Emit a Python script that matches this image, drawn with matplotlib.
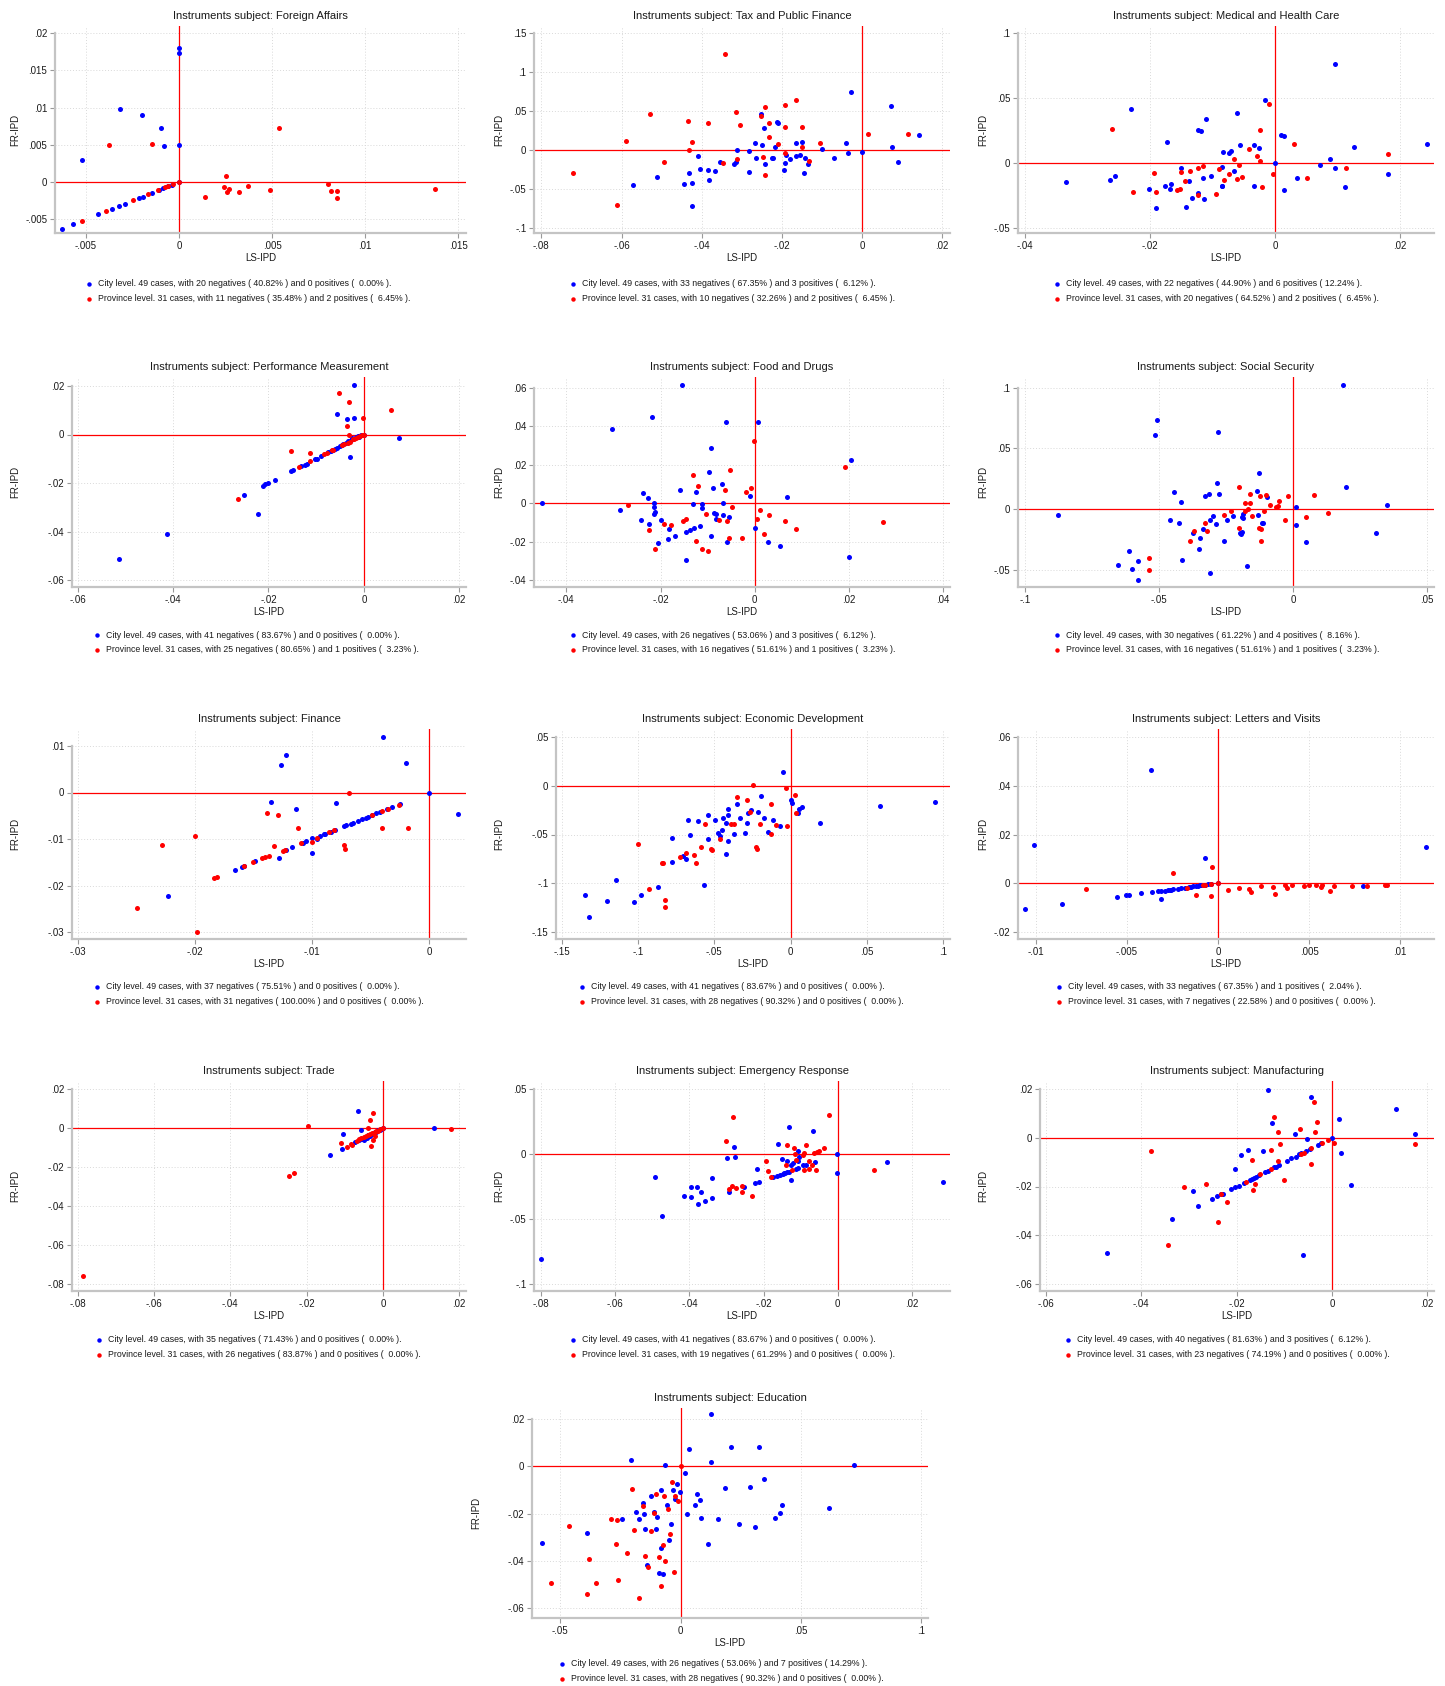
import matplotlib.pyplot as plt
from matplotlib.lines import Line2D
from matplotlib.ticker import FuncFormatter

plt.rcParams['font.family'] = ['Liberation Sans', 'DejaVu Sans']

W, H = 1445, 1686
BLUE = '#0000ff'
RED = '#ff0000'
N_CITY, N_PROV = 49, 31

# ---- data: (LS-IPD, FR-IPD) pairs ----
fa_city = [(0, 0.0180), (0, 0.0174), (-0.0032, 0.0098), (-0.0020, 0.0090), (-0.00097, 0.0073),
           (-0.00079, 0.00486), (0, 0.0050), (-0.0052, 0.0030), (-0.00628, -0.0063), (-0.00571, -0.00572),
           (-0.00436, -0.00437), (-0.00358, -0.0036), (-0.00322, -0.00324), (-0.00293, -0.00293),
           (-0.00215, -0.0022), (-0.00195, -0.0020), (-0.00147, -0.00149), (-0.00084, -0.00086),
           (-0.00057, -0.00059), (-0.0011, -0.0011), (-0.0004, -0.0004), (0, 0)]
fa_prov = [(-0.0052, -0.00523), (-0.00392, -0.00392), (-0.00245, -0.00243), (-0.00165, -0.00167),
           (-0.00114, -0.00108), (-0.00075, -0.00072), (-0.00057, -0.00059), (-0.00034, -0.00032), (0, 0),
           (-0.00374, 0.0050), (-0.00147, 0.00509), (0.00535, 0.00725), (0.00138, -0.00198), (0.0024, -0.00063),
           (0.00254, 0.00077), (0.00259, -0.0014), (0.00268, -0.00095), (0.00322, -0.00131), (0.00369, -0.00054),
           (0.00488, -0.00108), (0.00801, -0.00023), (0.00816, -0.00122), (0.00846, -0.00117),
           (0.0085, -0.00216), (0.01374, -0.00099)]

tax_city = [(-0.0571, -0.0451), (-0.0511, -0.0345), (-0.0443, -0.0438), (-0.0431, -0.0294), (-0.0423, -0.0417),
            (-0.0424, -0.0711), (-0.0410, -0.0077), (-0.0404, -0.0247), (-0.0384, -0.0260), (-0.0381, -0.0379),
            (-0.0367, -0.0268), (-0.0354, -0.0153), (-0.0320, -0.0179), (-0.0315, -0.0149), (-0.0311, -0.0004),
            (-0.0283, -0.0013), (-0.0283, -0.0281), (-0.0266, 0.0085), (-0.0265, -0.0102), (-0.0252, 0.0460),
            (-0.0249, 0.0068), (-0.0244, 0.0281), (-0.0243, -0.0179), (-0.0224, -0.0098), (-0.0221, -0.0102),
            (-0.0217, 0.0038), (-0.0213, 0.0353), (-0.0209, 0.0349), (-0.0195, -0.0255), (-0.0192, -0.0170),
            (-0.0190, -0.0060), (-0.0180, -0.0115), (-0.0165, 0.0094), (-0.0165, -0.0072), (-0.0155, -0.0060),
            (-0.0151, 0.0106), (-0.0146, -0.0289), (-0.0143, -0.0102), (-0.0135, -0.0179), (-0.0099, 0.0013),
            (-0.0071, -0.0106), (-0.0039, 0.0085), (-0.0036, -0.0034), (-0.0027, 0.0745), (-0.0001, -0.0026),
            (0.0073, 0.0562), (0.0075, 0.0043), (0.0089, -0.0157), (0.0142, 0.0187)]
tax_prov = [(-0.0721, -0.0289), (-0.0610, -0.0698), (-0.0588, 0.0115), (-0.0528, 0.0455), (-0.0493, -0.0157),
            (-0.0435, 0.0366), (-0.0431, 0.0), (-0.0425, 0.0098), (-0.0384, 0.0349), (-0.0348, -0.0170),
            (-0.0342, 0.1230), (-0.0314, 0.0485), (-0.0313, -0.0111), (-0.0304, 0.0319), (-0.0253, 0.0430),
            (-0.0248, -0.0094), (-0.0242, 0.0545), (-0.0242, -0.0319), (-0.0233, 0.0340), (-0.0233, 0.0162),
            (-0.0210, 0.0072), (-0.0192, 0.0570), (-0.0192, 0.0298), (-0.0192, -0.0034), (-0.0164, 0.0638),
            (-0.0151, 0.0294), (-0.0150, 0.0043), (-0.0132, -0.0140), (-0.0105, 0.0094), (0.0014, 0.0204),
            (0.0115, 0.0204)]

med_city = [(-0.0335, -0.0148), (-0.0264, -0.0133), (-0.0256, -0.0097), (-0.0231, 0.0414), (-0.0201, -0.0199),
            (-0.0191, -0.0343), (-0.0176, -0.0176), (-0.0173, 0.0159), (-0.0168, -0.0199), (-0.0166, -0.0164),
            (-0.0151, -0.0041), (-0.0143, -0.0335), (-0.0138, -0.0136), (-0.0133, -0.0269), (-0.0123, 0.0256),
            (-0.0123, -0.0233), (-0.0119, 0.0248), (-0.0116, -0.0115), (-0.0114, -0.0274), (-0.0110, 0.0338),
            (-0.0103, -0.0102), (-0.0085, -0.0174), (-0.0084, -0.0033), (-0.0083, 0.0084), (-0.0074, 0.0077),
            (-0.0071, 0.0095), (-0.0066, -0.0064), (-0.0061, 0.0381), (-0.0056, 0.0138), (-0.0034, 0.0141),
            (-0.0034, -0.0176), (-0.0025, 0.0113), (-0.0016, 0.0483), (0, 0), (0.0010, 0.0215), (0.0015, 0.0207),
            (0.0015, -0.0207), (0.0036, -0.0115), (0.0072, -0.0015), (0.0088, 0.0031), (0.0096, 0.0762),
            (0.0096, -0.0041), (0.0113, -0.0184), (0.0126, 0.0120), (0.0181, -0.0084), (0.0244, 0.0148),
            (-0.0084, -0.0172)]
med_prov = [(-0.0261, 0.0258), (-0.0227, -0.0225), (-0.0194, -0.0077), (-0.0190, -0.0223), (-0.0157, -0.0207),
            (-0.0152, -0.0199), (-0.0151, -0.0069), (-0.0144, -0.0141), (-0.0136, -0.0059), (-0.0124, -0.0041),
            (-0.0124, -0.0248), (-0.0115, -0.0020), (-0.0095, -0.0238), (-0.0090, -0.0046), (-0.0082, -0.0133),
            (-0.0073, -0.0084), (-0.0066, 0.0033), (-0.0060, -0.0120), (-0.0057, -0.0018), (-0.0052, -0.0105),
            (-0.0042, 0.0107), (-0.0028, 0.0054), (-0.0024, 0.0253), (-0.0024, 0.0015), (-0.0020, -0.0187),
            (-0.0010, 0.0453), (-0.0003, -0.0087), (0.0031, 0.0148), (0.0052, -0.0113), (0.0114, -0.0041),
            (0.0181, 0.0066)]

perf_city = [(-0.0513, -0.0513), (-0.0412, -0.0412), (-0.0252, -0.0250), (-0.0221, -0.0326), (-0.0212, -0.0212),
             (-0.0207, -0.0205), (-0.0201, -0.0199), (-0.0186, -0.0186), (-0.0152, -0.0151), (-0.0148, -0.0147),
             (-0.0131, -0.0131), (-0.0124, -0.0124), (-0.0119, -0.0120), (-0.0102, -0.0102), (-0.0099, -0.0099),
             (-0.0090, -0.0089), (-0.0075, -0.0074), (-0.0070, -0.0069), (-0.0064, -0.0065), (-0.0060, -0.0060),
             (-0.0057, -0.0056), (-0.0056, 0.0084), (-0.0050, -0.0048), (-0.0046, -0.0045), (-0.0043, -0.0041),
             (-0.0038, -0.0034), (-0.0036, 0.0065), (-0.0033, -0.0027), (-0.0029, -0.0093), (-0.0028, -0.0021),
             (-0.0024, -0.0016), (-0.0021, 0.0206), (-0.0021, 0.0070), (-0.0017, -0.0012), (-0.0012, -0.0008),
             (-0.0010, -0.0010), (-0.0007, -0.0004), (0, 0), (0.0073, -0.0016)]
perf_prov = [(-0.0264, -0.0264), (-0.0153, -0.0070), (-0.0137, -0.0136), (-0.0112, -0.0076), (-0.0112, -0.0111),
             (-0.0084, -0.0082), (-0.0078, -0.0078), (-0.0066, -0.0065), (-0.0064, -0.0062), (-0.0052, 0.0172),
             (-0.0045, -0.0044), (-0.0041, -0.0040), (-0.0036, 0.0036), (-0.0034, -0.0034), (-0.0032, 0.0135),
             (-0.0031, 0.0), (-0.0029, -0.0030), (-0.0023, -0.0020), (-0.0021, -0.0018), (-0.0017, -0.0014),
             (-0.0013, -0.0011), (-0.0008, -0.0008), (-0.0004, -0.0004), (-0.0001, 0.0069), (0, 0),
             (0.0056, 0.0103)]

food_city = [(-0.0451, 0.0), (-0.0304, 0.0385), (-0.0286, -0.0038), (-0.0241, -0.0087), (-0.0237, 0.0050),
             (-0.0226, 0.0028), (-0.0224, -0.0109), (-0.0219, 0.0447), (-0.0214, -0.0021), (-0.0214, 0.0003),
             (-0.0214, -0.0055), (-0.0211, -0.0047), (-0.0206, -0.0208), (-0.0200, -0.0090), (-0.0185, -0.0185),
             (-0.0182, -0.0135), (-0.0169, -0.0170), (-0.0158, 0.0066), (-0.0155, 0.0615), (-0.0146, -0.0149),
             (-0.0146, -0.0298), (-0.0138, -0.0139), (-0.0131, -0.0003), (-0.0129, -0.0128), (-0.0124, 0.0059),
             (-0.0117, -0.0118), (-0.0113, -0.0003), (-0.0113, -0.0024), (-0.0097, 0.0161), (-0.0094, -0.0172),
             (-0.0092, 0.0286), (-0.0088, 0.0078), (-0.0086, -0.0054), (-0.0083, -0.0059), (-0.0082, -0.0085),
             (-0.0069, 0.0097), (-0.0068, 0.0003), (-0.0068, -0.0061), (-0.0062, 0.0421), (-0.0058, -0.0201),
             (-0.0054, -0.0073), (-0.0011, 0.0036), (0.0001, -0.0128), (0.0006, 0.0421), (0.0028, -0.0201),
             (0.0054, -0.0225), (0.0069, 0.0033), (0.0199, -0.0279), (0.0205, 0.0224)]
food_prov = [(-0.0270, -0.0010), (-0.0224, -0.0140), (-0.0212, -0.0237), (-0.0192, -0.0109), (-0.0177, -0.0116),
             (-0.0152, -0.0092), (-0.0146, -0.0083), (-0.0132, 0.0146), (-0.0125, -0.0199), (-0.0121, 0.0088),
             (-0.0111, -0.0239), (-0.0104, -0.0055), (-0.0100, -0.0248), (-0.0076, -0.0087), (-0.0064, 0.0069),
             (-0.0059, -0.0095), (-0.0054, -0.0180), (-0.0053, 0.0172), (-0.0048, -0.0019), (-0.0027, -0.0180),
             (-0.0018, 0.0059), (-0.0009, 0.0078), (-0.0002, 0.0324), (0.0004, -0.0081), (0.0011, -0.0038),
             (0.0020, -0.0163), (0.0030, -0.0061), (0.0065, -0.0094), (0.0087, -0.0137), (0.0192, 0.0189),
             (0.0271, -0.0097)]

soc_city = [(-0.0879, -0.0047), (-0.0653, -0.0458), (-0.0612, -0.0342), (-0.0602, -0.0490), (-0.0581, -0.0427),
            (-0.0581, -0.0584), (-0.0517, 0.0614), (-0.0510, 0.0737), (-0.0460, -0.0085), (-0.0447, 0.0145),
            (-0.0425, -0.0112), (-0.0419, 0.0063), (-0.0415, -0.0416), (-0.0376, -0.0192), (-0.0352, -0.0329),
            (-0.0348, -0.0233), (-0.0338, -0.0162), (-0.0330, 0.0112), (-0.0315, 0.0126), (-0.0310, -0.0085),
            (-0.0310, -0.0521), (-0.0299, -0.0052), (-0.0289, -0.0118), (-0.0284, 0.0214), (-0.0280, 0.0638),
            (-0.0276, 0.0126), (-0.0257, -0.0260), (-0.0249, -0.0088), (-0.0224, -0.0058), (-0.0199, -0.0197),
            (-0.0192, -0.0189), (-0.0189, -0.0041), (-0.0188, -0.0074), (-0.0173, -0.0471), (-0.0137, 0.0153),
            (-0.0133, -0.0049), (-0.0128, 0.0299), (-0.0118, -0.0115), (-0.0113, -0.0115), (-0.0097, 0.0104),
            (0.0009, 0.0022), (0.0010, -0.0126), (0.0047, -0.0268), (0.0187, 0.1025), (0.0195, 0.0181),
            (0.0310, -0.0195), (0.0350, 0.0036), (-0.0195, -0.0200), (-0.0190, -0.0060)]
soc_prov = [(-0.0540, -0.0400), (-0.0537, -0.0496), (-0.0386, -0.0258), (-0.0371, -0.0178), (-0.0330, -0.0110),
            (-0.0322, -0.0178), (-0.0259, -0.0049), (-0.0233, -0.0011), (-0.0201, 0.0186), (-0.0201, -0.0151),
            (-0.0182, 0.0055), (-0.0180, -0.0014), (-0.0169, 0.0003), (-0.0163, 0.0123), (-0.0163, 0.0055),
            (-0.0155, -0.0058), (-0.0128, -0.0153), (-0.0123, 0.0112), (-0.0121, -0.0162), (-0.0121, -0.0263),
            (-0.0111, -0.0014), (-0.0101, 0.0118), (-0.0088, 0.0038), (-0.0065, 0.0016), (-0.0058, 0.0027),
            (-0.0052, 0.0071), (-0.0031, -0.0090), (-0.0020, 0.0110), (0.0047, -0.0063), (0.0077, 0.0118),
            (0.0131, -0.0033)]

fin_city = [(-0.0223, -0.0223), (-0.0166, -0.0166), (-0.0160, -0.0160), (-0.0158, -0.0158), (-0.0149, -0.0148),
            (-0.0135, -0.0021), (-0.0128, -0.0141), (-0.0126, 0.0059), (-0.0122, 0.0080), (-0.0122, -0.0123),
            (-0.0117, -0.0117), (-0.0114, -0.0036), (-0.0108, -0.0108), (-0.0105, -0.0104), (-0.0100, -0.0131),
            (-0.0100, -0.0098), (-0.0096, -0.0100), (-0.0093, -0.0093), (-0.0090, -0.0090), (-0.0089, -0.0089),
            (-0.0084, -0.0085), (-0.0080, -0.0080), (-0.0079, -0.0022), (-0.0073, -0.0072), (-0.0071, -0.0070),
            (-0.0067, -0.0067), (-0.0065, -0.0065), (-0.0061, -0.0061), (-0.0057, -0.0057), (-0.0054, -0.0054),
            (-0.0052, -0.0052), (-0.0049, -0.0049), (-0.0045, -0.0045), (-0.0042, -0.0042), (-0.0039, 0.0120),
            (-0.0036, -0.0036), (-0.0032, -0.0032), (-0.0025, -0.0025), (-0.0020, 0.0063), (0, 0),
            (0.0025, -0.0047)]
fin_prov = [(-0.0249, -0.0249), (-0.0228, -0.0113), (-0.0200, -0.0093), (-0.0198, -0.0299), (-0.0184, -0.0184),
            (-0.0181, -0.0181), (-0.0158, -0.0157), (-0.0150, -0.0150), (-0.0143, -0.0141), (-0.0140, -0.0138),
            (-0.0138, -0.0044), (-0.0137, -0.0137), (-0.0132, -0.0116), (-0.0129, -0.0049), (-0.0125, -0.0125),
            (-0.0123, -0.0123), (-0.0112, -0.0076), (-0.0109, -0.0109), (-0.0100, -0.0106), (-0.0096, -0.0097),
            (-0.0085, -0.0086), (-0.0081, -0.0081), (-0.0073, -0.0113), (-0.0072, -0.0122), (-0.0068, -0.0002),
            (-0.0049, -0.0049), (-0.0040, -0.0076), (-0.0040, -0.0039), (-0.0035, -0.0035), (-0.0026, -0.0026),
            (-0.0018, -0.0077)]

eco_city = [(-0.1347, -0.1120), (-0.1323, -0.1349), (-0.1203, -0.1178), (-0.1142, -0.0962), (-0.1028, -0.1188),
            (-0.0980, -0.1123), (-0.0867, -0.1041), (-0.0775, -0.0534), (-0.0775, -0.0784), (-0.0707, -0.0716),
            (-0.0688, -0.0747), (-0.0675, -0.0349), (-0.0657, -0.0503), (-0.0605, -0.0366), (-0.0566, -0.1017),
            (-0.0541, -0.0298), (-0.0539, -0.0548), (-0.0493, -0.0353), (-0.0474, -0.0483), (-0.0465, -0.0517),
            (-0.0448, -0.0455), (-0.0445, -0.0329), (-0.0426, -0.0702), (-0.0421, -0.0380), (-0.0413, -0.0236),
            (-0.0413, -0.0305), (-0.0410, -0.0562), (-0.0369, -0.0497), (-0.0349, -0.0188), (-0.0332, -0.0329),
            (-0.0299, -0.0486), (-0.0284, -0.0380), (-0.0277, -0.0284), (-0.0258, -0.0250), (-0.0216, -0.0271),
            (-0.0197, -0.0103), (-0.0172, -0.0329), (-0.0148, -0.0473), (-0.0116, -0.0353), (-0.0072, -0.0414),
            (-0.0048, 0.0137), (0.0002, -0.0151), (0.0011, -0.0175), (0.0048, -0.0281), (0.0052, -0.0236),
            (0.0076, -0.0223), (0.0194, -0.0387), (0.0583, -0.0212), (0.0948, -0.0164)]
eco_prov = [(-0.1002, -0.0596), (-0.0928, -0.1055), (-0.0843, -0.0795), (-0.0834, -0.0791), (-0.0825, -0.1175),
            (-0.0825, -0.1247), (-0.0727, -0.0733), (-0.0688, -0.0688), (-0.0635, -0.0709), (-0.0618, -0.0791),
            (-0.0587, -0.0627), (-0.0520, -0.0651), (-0.0515, -0.0658), (-0.0561, -0.0390), (-0.0461, -0.0545),
            (-0.0393, -0.0397), (-0.0371, -0.0390), (-0.0349, -0.0113), (-0.0284, -0.0144), (-0.0264, -0.0267),
            (-0.0247, 0.0010), (-0.0227, -0.0627), (-0.0221, -0.0651), (-0.0199, -0.0397), (-0.0131, -0.0188),
            (-0.0131, -0.0493), (-0.0094, -0.0404), (-0.0031, -0.0027), (-0.0026, -0.0411), (0.0028, -0.0092),
            (0.0037, -0.0277)]

let_city = [(-0.01059, -0.01055), (-0.01009, 0.01562), (-0.00854, -0.00849), (-0.00554, -0.00548),
            (-0.00506, -0.00493), (-0.00490, -0.00479), (-0.00422, -0.00411), (-0.00367, 0.04658),
            (-0.00360, -0.00356), (-0.00330, -0.00330), (-0.00314, -0.00630), (-0.00311, -0.00315),
            (-0.00289, -0.00301), (-0.00274, -0.00288), (-0.00265, -0.00270), (-0.00256, -0.00260),
            (-0.00247, -0.00247), (-0.00219, -0.00219), (-0.00201, -0.00192), (-0.00180, -0.00175),
            (-0.00160, -0.00160), (-0.00146, -0.00137), (-0.00137, -0.00123), (-0.00120, -0.00110),
            (-0.00110, -0.00096), (-0.00101, -0.00082), (-0.00091, -0.00068), (-0.00069, 0.01041),
            (-0.00069, -0.00055), (-0.00055, -0.00041), (-0.00040, -0.00030), (0, 0), (0.00797, -0.00110),
            (0.01143, 0.01507)]
let_prov = [(-0.00724, -0.00219), (-0.00247, 0.00438), (-0.00168, -0.00178), (-0.00121, -0.00479),
            (-0.00082, -0.00082), (-0.00069, -0.00082), (-0.00040, -0.00521), (-0.00037, -0.00041),
            (-0.00035, 0.00685), (0, 0), (0.00055, -0.00260), (0.00113, -0.00205), (0.00172, -0.00219),
            (0.00183, -0.00342), (0.00236, -0.00110), (0.00302, -0.00164), (0.00313, -0.00452),
            (0.00369, -0.00055), (0.00380, -0.00205), (0.00408, -0.00068), (0.00472, -0.00110),
            (0.00497, -0.00055), (0.00537, -0.00055), (0.00567, -0.00137), (0.00572, -0.00068),
            (0.00616, -0.00301), (0.00638, -0.00096), (0.00737, -0.00096), (0.00819, -0.00096),
            (0.00918, -0.00055), (0.00929, -0.00082)]

trade_city = [(-0.0140, -0.0140), (-0.0108, -0.0106), (-0.0104, -0.0029), (-0.0073, -0.0072), (-0.0065, 0.0085),
              (-0.0062, -0.0060), (-0.0058, -0.0009), (-0.0055, -0.0055), (-0.0051, -0.0063), (-0.0047, -0.0047),
              (-0.0042, -0.0049), (-0.0038, -0.0038), (-0.0033, -0.0039), (-0.0029, -0.0030), (-0.0024, -0.0029),
              (-0.0021, -0.0021), (-0.0017, -0.0019), (-0.0012, -0.0012), (-0.0009, -0.0009), (-0.0005, -0.0005),
              (0, 0), (0.0134, 0.0)]
trade_prov = [(-0.0787, -0.0758), (-0.0246, -0.0247), (-0.0232, -0.0233), (-0.0197, 0.0012), (-0.0110, -0.0078),
              (-0.0095, -0.0095), (-0.0083, -0.0082), (-0.0080, -0.0085), (-0.0068, -0.0065), (-0.0062, -0.0058),
              (-0.0057, -0.0053), (-0.0051, -0.0048), (-0.0045, -0.0043), (-0.0039, -0.0036), (-0.0039, 0.0),
              (-0.0035, -0.0031), (-0.0033, 0.0039), (-0.0031, -0.0094), (-0.0030, -0.0026), (-0.0027, 0.0077),
              (-0.0026, -0.0060), (-0.0022, -0.0043), (-0.0021, -0.0019), (-0.0017, -0.0014), (-0.0014, -0.0014),
              (-0.0010, -0.0010), (-0.0007, -0.0007), (0, 0), (0.0177, -0.0005)]

emer_city = [(-0.0800, -0.0805), (-0.0492, -0.0177), (-0.0473, -0.0477), (-0.0415, -0.0323), (-0.0397, -0.0254),
             (-0.0396, -0.0331), (-0.0379, -0.0256), (-0.0378, -0.0382), (-0.0370, -0.0292), (-0.0357, -0.0359),
             (-0.0338, -0.0185), (-0.0338, -0.0341), (-0.0298, -0.0031), (-0.0292, -0.0295), (-0.0281, 0.0056),
             (-0.0276, -0.0023), (-0.0253, -0.0254), (-0.0224, -0.0226), (-0.0218, -0.0115), (-0.0213, -0.0215),
             (-0.0175, -0.0174), (-0.0164, -0.0167), (-0.0160, 0.0079), (-0.0155, -0.0159), (-0.0151, -0.0038),
             (-0.0148, -0.0151), (-0.0145, -0.0148), (-0.0141, -0.0146), (-0.0136, -0.0054), (-0.0136, -0.0141),
             (-0.0132, -0.0135), (-0.0130, 0.0210), (-0.0127, -0.0082), (-0.0125, -0.0203), (-0.0120, -0.0072),
             (-0.0112, -0.0113), (-0.0106, -0.0105), (-0.0106, 0.0023), (-0.0106, -0.0051), (-0.0104, -0.0023),
             (-0.0093, -0.0087), (-0.0086, -0.0082), (-0.0066, 0.0174), (-0.0062, -0.0062), (-0.0002, 0.0),
             (-0.0002, -0.0146), (0.0133, -0.0062), (0.0284, -0.0215)]
emer_prov = [(-0.0301, 0.0097), (-0.0292, -0.0269), (-0.0284, -0.0246), (-0.0283, 0.0282), (-0.0274, -0.0262),
             (-0.0259, -0.0295), (-0.0259, -0.0249), (-0.0230, -0.0323), (-0.0194, -0.0056), (-0.0187, -0.0128),
             (-0.0179, -0.0179), (-0.0139, -0.0085), (-0.0136, 0.0069), (-0.0122, -0.0123), (-0.0117, 0.0046),
             (-0.0114, 0.0003), (-0.0113, -0.0044), (-0.0094, -0.0010), (-0.0090, 0.0008), (-0.0091, -0.0121),
             (-0.0086, 0.0069), (-0.0077, -0.0118), (-0.0076, -0.0051), (-0.0068, -0.0082), (-0.0064, 0.0010),
             (-0.0058, -0.0121), (-0.0055, 0.0013), (-0.0051, 0.0023), (-0.0038, 0.0049), (-0.0024, 0.0300),
             (0.0097, -0.0123)]

man_city = [(-0.0472, -0.0473), (-0.0335, -0.0335), (-0.0291, -0.0219), (-0.0280, -0.0281), (-0.0252, -0.0252),
            (-0.0240, -0.0240), (-0.0232, -0.0232), (-0.0229, -0.0229), (-0.0211, -0.0211), (-0.0203, -0.0127),
            (-0.0203, -0.0204), (-0.0194, -0.0196), (-0.0191, -0.0071), (-0.0185, -0.0185), (-0.0176, -0.0052),
            (-0.0171, -0.0172), (-0.0168, -0.0168), (-0.0164, -0.0165), (-0.0159, -0.0159), (-0.0152, -0.0153),
            (-0.0145, -0.0056), (-0.0140, -0.0140), (-0.0134, 0.0194), (-0.0133, -0.0135), (-0.0125, 0.0060),
            (-0.0122, -0.0121), (-0.0117, -0.0119), (-0.0110, -0.0112), (-0.0094, -0.0095), (-0.0085, -0.0085),
            (-0.0078, 0.0016), (-0.0075, -0.0078), (-0.0068, -0.0068), (-0.0064, -0.0063), (-0.0061, -0.0480),
            (-0.0054, -0.0056), (-0.0052, -0.0004), (-0.0046, -0.0046), (-0.0044, 0.0168), (-0.0030, -0.0030),
            (-0.0022, -0.0020), (0, 0), (0.0015, 0.0075), (0.0019, -0.0061), (0.0039, -0.0192), (0.0134, 0.0116),
            (0.0175, 0.0015)]
man_prov = [(-0.0379, -0.0053), (-0.0344, -0.0439), (-0.0310, -0.0204), (-0.0263, -0.0191), (-0.0239, -0.0345),
            (-0.0232, -0.0232), (-0.0219, -0.0264), (-0.0180, -0.0180), (-0.0167, -0.0091), (-0.0166, -0.0215),
            (-0.0162, -0.0191), (-0.0150, -0.0150), (-0.0128, -0.0049), (-0.0128, -0.0127), (-0.0122, 0.0086),
            (-0.0114, -0.0097), (-0.0112, 0.0022), (-0.0108, -0.0026), (-0.0100, -0.0173), (-0.0066, 0.0037),
            (-0.0065, -0.0065), (-0.0059, -0.0061), (-0.0044, -0.0044), (-0.0044, -0.0106), (-0.0038, 0.0147),
            (-0.0035, 0.0025), (-0.0031, 0.0065), (-0.0020, -0.0023), (-0.0008, -0.0008), (0.0005, -0.0020),
            (0.0175, -0.0025)]

edu_city = [(-0.0576, -0.0323), (-0.0388, -0.0282), (-0.0241, -0.0223), (-0.0205, 0.0027), (-0.0183, -0.0191),
            (-0.0174, -0.0223), (-0.0156, -0.0155), (-0.0150, -0.0200), (-0.0147, -0.0264), (-0.0138, -0.0418),
            (-0.0121, -0.0127), (-0.0112, -0.0191), (-0.0103, -0.0264), (-0.0098, -0.0214), (-0.0089, -0.0450),
            (-0.0080, -0.0100), (-0.0080, -0.0345), (-0.0071, -0.0455), (-0.0063, 0.0005), (-0.0058, -0.0164),
            (-0.0049, -0.0309), (-0.0040, -0.0245), (-0.0031, -0.0100), (-0.0022, -0.0136), (-0.0013, -0.0073),
            (-0.0004, -0.0109), (0.0018, -0.0027), (0.0027, -0.0200), (0.0036, 0.0073), (0.0058, -0.0164),
            (0.0067, -0.0118), (0.0080, -0.0140), (0.0085, -0.0218), (0.0112, -0.0327), (0.0125, 0.0223),
            (0.0125, 0.0018), (0.0156, -0.0223), (0.0183, -0.0091), (0.0210, 0.0082), (0.0241, -0.0245),
            (0.0290, -0.0086), (0.0308, -0.0255), (0.0326, 0.0082), (0.0348, -0.0055), (0.0393, -0.0218),
            (0.0411, -0.0195), (0.0420, -0.0164), (0.0616, -0.0177), (0.0719, 0.0005)]
edu_prov = [(-0.0536, -0.0491), (-0.0464, -0.0250), (-0.0388, -0.0541), (-0.0379, -0.0391), (-0.0353, -0.0491),
            (-0.0290, -0.0223), (-0.0268, -0.0327), (-0.0263, -0.0227), (-0.0259, -0.0482), (-0.0223, -0.0364),
            (-0.0201, -0.0095), (-0.0192, -0.0268), (-0.0174, -0.0555), (-0.0156, -0.0168), (-0.0147, -0.0377),
            (-0.0134, -0.0427), (-0.0121, -0.0273), (-0.0112, -0.0195), (-0.0103, -0.0118), (-0.0089, -0.0382),
            (-0.0080, -0.0505), (-0.0071, -0.0332), (-0.0067, -0.0127), (-0.0063, -0.0400), (-0.0054, -0.0182),
            (-0.0045, -0.0286), (-0.0036, -0.0064), (-0.0027, -0.0445), (-0.0022, -0.0123), (-0.0009, -0.0145),
            (0, 0)]

titles = ['Foreign Affairs', 'Tax and Public Finance', 'Medical and Health Care', 'Performance Measurement',
          'Food and Drugs', 'Social Security', 'Finance', 'Economic Development', 'Letters and Visits',
          'Trade', 'Emergency Response', 'Manufacturing', 'Education']
city_sets = [fa_city, tax_city, med_city, perf_city, food_city, soc_city, fin_city, eco_city, let_city,
             trade_city, emer_city, man_city, edu_city]
prov_sets = [fa_prov, tax_prov, med_prov, perf_prov, food_prov, soc_prov, fin_prov, eco_prov, let_prov,
             trade_prov, emer_prov, man_prov, edu_prov]
city_neg = [20, 33, 22, 41, 26, 30, 37, 41, 33, 35, 41, 40, 26]
city_pos = [0, 3, 6, 0, 3, 4, 0, 0, 1, 0, 0, 3, 7]
prov_neg = [11, 10, 20, 25, 16, 16, 31, 28, 7, 26, 19, 23, 28]
prov_pos = [2, 2, 2, 1, 1, 1, 0, 0, 0, 0, 0, 0, 0]

xticks = [[-.005, 0, .005, .01, .015], [-.08, -.06, -.04, -.02, 0, .02], [-.04, -.02, 0, .02],
          [-.06, -.04, -.02, 0, .02], [-.04, -.02, 0, .02, .04], [-.1, -.05, 0, .05],
          [-.03, -.02, -.01, 0], [-.15, -.1, -.05, 0, .05, .1], [-.01, -.005, 0, .005, .01],
          [-.08, -.06, -.04, -.02, 0, .02], [-.08, -.06, -.04, -.02, 0, .02], [-.06, -.04, -.02, 0, .02],
          [-.05, 0, .05, .1]]
yticks = [[-.005, 0, .005, .01, .015, .02], [-.1, -.05, 0, .05, .1, .15], [-.05, 0, .05, .1],
          [-.06, -.04, -.02, 0, .02], [-.04, -.02, 0, .02, .04, .06], [-.05, 0, .05, .1],
          [-.03, -.02, -.01, 0, .01], [-.15, -.1, -.05, 0, .05], [-.02, 0, .02, .04, .06],
          [-.08, -.06, -.04, -.02, 0, .02], [-.1, -.05, 0, .05], [-.06, -.04, -.02, 0, .02],
          [-.06, -.04, -.02, 0, .02]]

# ---- layout (pixels): plot box, pixel position of first/last tick, legend and y-label x ----
boxes = [(55, 466, 26, 233), (534, 950, 26, 233), (1018, 1434, 26, 233),
         (72, 466, 377, 587), (534, 950, 377, 587), (1018, 1434, 377, 587),
         (72, 466, 729, 939), (556, 950, 729, 939), (1018, 1434, 729, 939),
         (72, 466, 1081, 1291), (534, 950, 1081, 1291), (1040, 1434, 1081, 1291),
         (532, 928, 1408, 1618)]
xpix = [(86, 458.3), (541.3, 942.3), (1025.3, 1399.7), (77.7, 459.3), (566.3, 943.3), (1025.3, 1427.3),
        (77.7, 429), (561.7, 943.3), (1035.7, 1400.3), (77.7, 459.3), (541.3, 911.7), (1045.7, 1427.3),
        (560.1, 921.4)]
ypix = [(219, 33.3), (228.3, 32.7), (228.3, 32.7), (580, 386), (580, 387.7), (570, 387.7),
        (932, 746), (932, 737), (932, 737), (1284, 1089), (1284, 1089), (1284, 1089), (1608.4, 1419.1)]
leg_x = [89, 573, 1057, 97, 573, 1057, 97, 582, 1059, 99, 573, 1068, 562]
leg_dy = [51, 51, 51, 48, 48, 48, 48, 48, 48, 49, 49, 49, 46]
ylab_x = [15, 499, 983, 15, 499, 983, 15, 499, 983, 15, 499, 983, 476]


def stata_fmt(v, pos=None):
    if abs(v) < 1e-12:
        return '0'
    s = f'{v:.4f}'.rstrip('0').rstrip('.')
    return s.replace('0.', '.', 1)


fig = plt.figure(figsize=(W / 100, H / 100), dpi=100)
TXT = '#1a1a1a'
AXC = '#c4c4c4'

for i, title in enumerate(titles):
    L, R, T, B = boxes[i]
    ax = fig.add_axes([L / W, 1 - B / H, (R - L) / W, (B - T) / H])
    xt, yt = xticks[i], yticks[i]
    sx = (xpix[i][1] - xpix[i][0]) / (xt[-1] - xt[0])
    sy = (ypix[i][0] - ypix[i][1]) / (yt[-1] - yt[0])
    x0 = xt[0] - (xpix[i][0] - L) / sx
    x1 = xt[0] + (R - xpix[i][0]) / sx
    y0 = yt[0] - (B - ypix[i][0]) / sy
    y1 = yt[-1] + (ypix[i][1] - T) / sy
    ax.set_xlim(x0, x1)
    ax.set_ylim(y0, y1)
    ax.set_xticks(xt)
    ax.set_yticks(yt)
    ax.xaxis.set_major_formatter(FuncFormatter(stata_fmt))
    ax.yaxis.set_major_formatter(FuncFormatter(stata_fmt))
    ax.tick_params(direction='out', length=3.5, width=0.8, color='#999999', labelsize=7,
                   labelcolor=TXT, pad=2)
    ax.grid(True, linestyle=(0, (1, 2)), color='#d9d9d9', linewidth=0.7)
    ax.set_axisbelow(True)
    for side in ['top', 'right']:
        ax.spines[side].set_visible(False)
    for side in ['left', 'bottom']:
        ax.spines[side].set_color(AXC)
        ax.spines[side].set_linewidth(1.6)
    ax.spines['left'].set_bounds(y0, yt[-1])

    ax.axhline(0, color=RED, lw=0.9, zorder=1.5)
    ax.axvline(0, color=RED, lw=0.9, zorder=1.5)

    cx = [p[0] for p in city_sets[i]]
    cy = [p[1] for p in city_sets[i]]
    px = [p[0] for p in prov_sets[i]]
    py = [p[1] for p in prov_sets[i]]
    ax.scatter(cx, cy, s=13, color=BLUE, linewidths=0, zorder=3, clip_on=False)
    ax.scatter(px, py, s=13, color=RED, linewidths=0, zorder=4, clip_on=False)

    fig.text((L + R) / 2 / W, 1 - (T - 10) / H, 'Instruments subject: ' + title,
             ha='center', va='center', fontsize=8, color=TXT)
    fig.text((L + R) / 2 / W, 1 - (B + 25) / H, 'LS-IPD', ha='center', va='center',
             fontsize=7, color=TXT)
    fig.text(ylab_x[i] / W, 1 - (T + B) / 2 / H, 'FR-IPD', ha='center', va='center',
             rotation=90, fontsize=7, color=TXT)

    lines = [
        (BLUE, f'City level. {N_CITY} cases, with {city_neg[i]} negatives ( {city_neg[i] / N_CITY * 100:5.2f}% )'
               f' and {city_pos[i]} positives ( {city_pos[i] / N_CITY * 100:5.2f}% ).'),
        (RED, f'Province level. {N_PROV} cases, with {prov_neg[i]} negatives ( {prov_neg[i] / N_PROV * 100:5.2f}% )'
              f' and {prov_pos[i]} positives ( {prov_pos[i] / N_PROV * 100:5.2f}% ).'),
    ]
    for k, (col, txt) in enumerate(lines):
        yy = 1 - (B + leg_dy[i] + 14.5 * k) / H
        fig.add_artist(Line2D([leg_x[i] / W], [yy], marker='o', markersize=3.2, color=col, lw=0,
                              markeredgewidth=0, transform=fig.transFigure))
        fig.text((leg_x[i] + 9) / W, yy, txt, ha='left', va='center', fontsize=6.3, color=TXT)

fig.savefig('out.png', dpi=100, facecolor='white')
